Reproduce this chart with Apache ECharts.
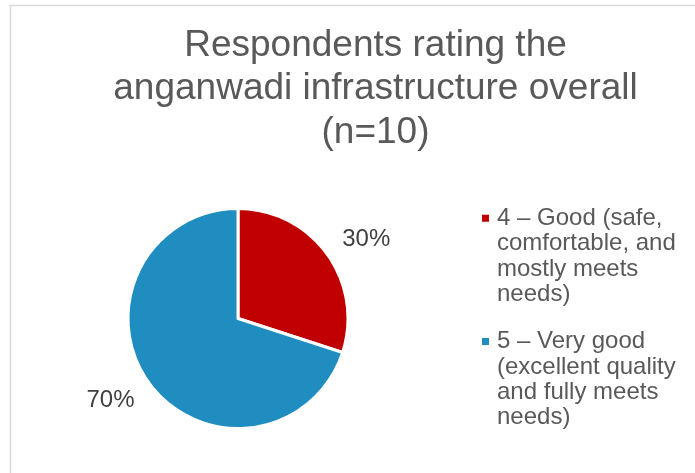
<!DOCTYPE html>
<html>
<head>
<meta charset="utf-8">
<script src="https://cdn.jsdelivr.net/npm/echarts@6/dist/echarts.min.js"></script>
<style>
  html, body { margin: 0; padding: 0; background: #ffffff; }
  #chart { width: 695px; height: 473px; }
</style>
</head>
<body>
<div id="chart"></div>
<script>
const titleLines = ["Respondents rating the", "anganwadi infrastructure overall", "(n=10)"];
const categories = [
  "4 – Good (safe, comfortable, and mostly meets needs)",
  "5 – Very good (excellent quality and fully meets needs)"
];
const counts = [3, 7];
const colors = ["#C00000", "#1F8DC0"];

const FONT = "'Liberation Sans', Arial, sans-serif";
// legend marker: a 7px square near the top of a tall (text-block-high) icon box
const LEGEND_ICON = 'path://M0,0 L7,0 M0,9 L7,9 L7,16 L0,16 Z M0,101.2 L7,101.2';
// per-slice label placement (distance from the rim, pull-in toward the pie)
const labelLens = [25, 29];
const labelPull = [-5, -9];

const chart = echarts.init(document.getElementById('chart'), null, { renderer: 'canvas' });

chart.setOption({
  backgroundColor: '#ffffff',
  animation: false,
  graphic: [{
    type: 'rect',
    shape: { x: 10.5, y: 5.5, width: 720, height: 520 },
    style: { fill: 'none', stroke: '#d9d9d9', lineWidth: 1.5 },
    silent: true
  }],
  title: {
    text: titleLines.join('\n'),
    left: 375.5,
    top: 24,
    padding: 0,
    textAlign: 'center',
    textStyle: {
      fontFamily: FONT,
      fontSize: 37,
      fontWeight: 'normal',
      color: '#595959',
      lineHeight: 43.5
    }
  },
  legend: {
    orient: 'vertical',
    left: 482,
    top: 205.75,
    padding: 0,
    icon: LEGEND_ICON,
    itemWidth: 7,
    itemHeight: 101.2,
    itemGap: 22.1,
    selectedMode: false,
    itemStyle: { borderWidth: 0 },
    data: categories,
    textStyle: {
      fontFamily: FONT,
      fontSize: 24,
      color: '#595959',
      width: 192,
      overflow: 'break',
      lineHeight: 25.3,
      padding: [0, 0, 0, 3]
    }
  },
  series: [{
    type: 'pie',
    center: [238, 318.5],
    radius: 110,
    startAngle: 90,
    clockwise: true,
    avoidLabelOverlap: false,
    itemStyle: { borderColor: '#ffffff', borderWidth: 3 },
    label: {
      show: true,
      position: 'outside',
      formatter: '{d}%',
      fontFamily: FONT,
      fontSize: 24,
      color: '#404040',
      distanceToLabelLine: -5
    },
    labelLine: { show: false, length: 25, length2: 0 },
    emphasis: { disabled: true },
    data: categories.map((name, i) => ({
      name: name,
      value: counts[i],
      itemStyle: { color: colors[i] },
      label: { distanceToLabelLine: labelPull[i] },
      labelLine: { show: false, length: labelLens[i], length2: 0 }
    }))
  }]
});
</script>
</body>
</html>
